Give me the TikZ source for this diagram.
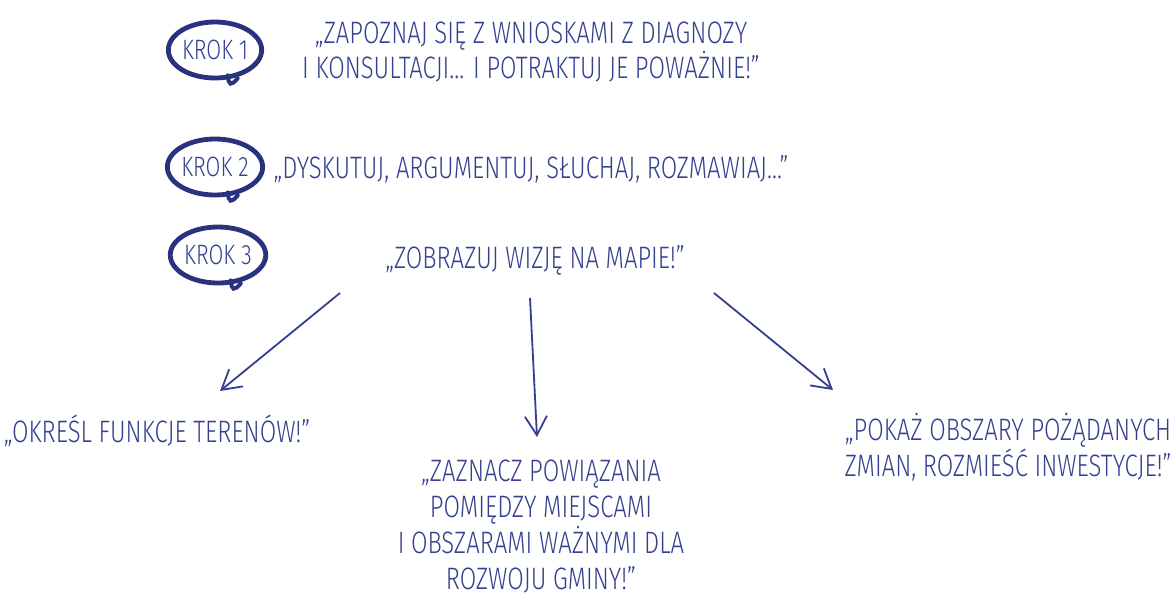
\documentclass[tikz,border=0pt]{standalone}
\usepackage{fontspec}
\usetikzlibrary{arrows.meta,shapes.geometric,calc}
\newfontfamily\hwfont{Fira Sans}[UprightFont=* Light, FakeStretch=0.77]
\definecolor{inkc}{HTML}{34408F}
\definecolor{ringc}{HTML}{28327D}
\begin{document}
\begin{tikzpicture}[x=1pt,y=-1pt,
  txt/.style={text=inkc, font=\hwfont\fontsize{31}{35}\selectfont, align=center, inner sep=0pt, anchor=base},
  krok/.style={ellipse, draw=ringc, line width=4.8pt, text=inkc, font=\hwfont\fontsize{28}{30}\selectfont,
     minimum width=92pt, minimum height=56pt, inner sep=0pt},
  hook/.style={draw=ringc, line width=4pt, line cap=round},
  arr/.style={draw=inkc, line width=1.8pt, -{Straight Barb[length=19pt,width=22pt,line width=1.8pt]}}]
\useasboundingbox (0,0) rectangle (1174,597);

% steps
\node[krok] (k1) at (215,50) {KROK 1};
\node[krok] (k2) at (215,167) {KROK 2};
\node[krok] (k3) at (218,255) {KROK 3};
\foreach \k in {k1,k2,k3}{
  \draw[hook] ($(\k.-58)+(-5,-3)$) .. controls +(1,10) and +(-7,8) .. +(10,3);
}

% quotes
\node[txt] (q1) at (531,78) {„ZAPOZNAJ SIĘ Z WNIOSKAMI Z DIAGNOZY\\I KONSULTACJI... I POTRAKTUJ JE POWAŻNIE!”};
\node[txt] (q2) at (531,178) {„DYSKUTUJ, ARGUMENTUJ, SŁUCHAJ, ROZMAWIAJ...”};
\node[txt] (q3) at (535,268) {„ZOBRAZUJ WIZJĘ NA MAPIE!”};

\node[txt] (b1) at (157,442) {„OKREŚL FUNKCJE TERENÓW!”};
\node[txt, font=\hwfont\fontsize{31}{36}\selectfont] (b2) at (541,589) {„ZAZNACZ POWIĄZANIA\\POMIĘDZY MIEJSCAMI\\I OBSZARAMI WAŻNYMI DLA\\ROZWOJU GMINY!”};
\node[txt, font=\hwfont\fontsize{31}{34}\selectfont] (b3) at (1008,476) {„POKAŻ OBSZARY POŻĄDANYCH\\ZMIAN, ROZMIEŚĆ INWESTYCJE!”};

% arrows
\coordinate (s1) at (340,293);
\coordinate (e1) at (220,391);
\coordinate (s2) at (530,298);
\coordinate (e2) at (537,437);
\coordinate (s3) at (714,293);
\coordinate (e3) at (833,390);
\draw[arr] (s1) -- (e1);
\draw[arr] (s2) -- (e2);
\draw[arr] (s3) -- (e3);
\end{tikzpicture}
\end{document}
